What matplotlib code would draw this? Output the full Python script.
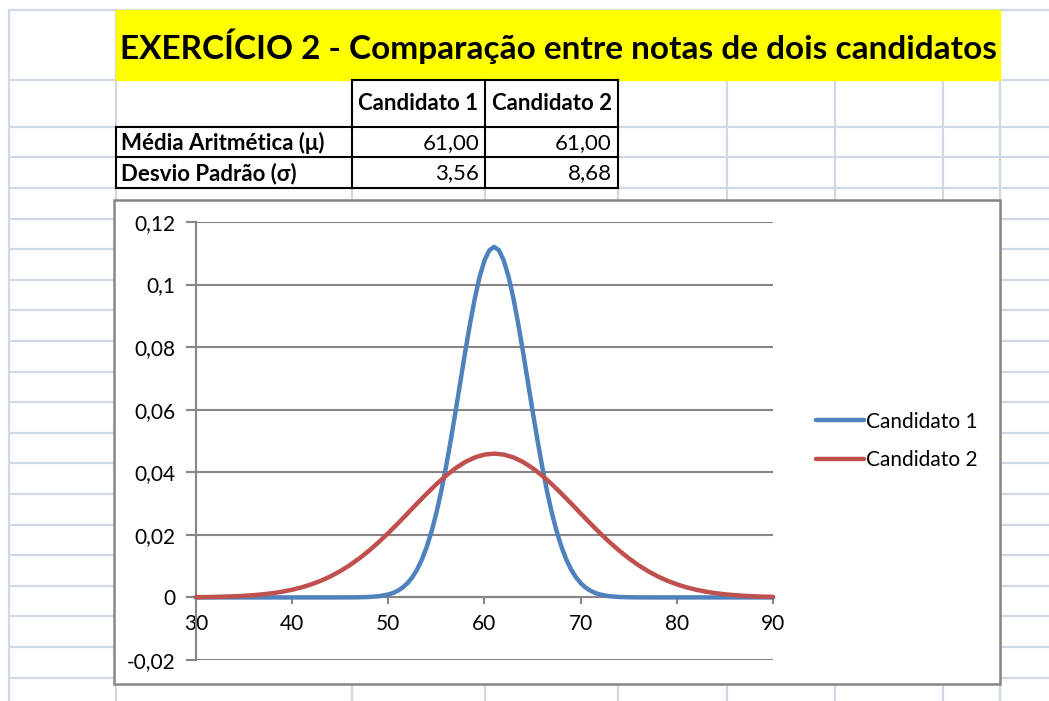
import matplotlib
matplotlib.use('Agg')
from matplotlib import pyplot as plt
from matplotlib.patches import Rectangle

plt.rcParams['font.family'] = ['Lato', 'DejaVu Sans']

# --- data -------------------------------------------------------------
title = 'EXERCÍCIO 2 - Comparação entre notas de dois candidatos'
col_labels = ['Candidato 1', 'Candidato 2']
row_labels = ['Média Aritmética (μ)', 'Desvio Padrão (σ)']
means = [61.00, 61.00]
std_devs = [3.56, 8.68]

# candidato 1 is read more densely around the narrow peak
notas1 = ([30, 31, 32, 33, 34, 35, 36, 37, 38, 39, 40, 41, 42, 43, 44, 45,
           46, 47, 48, 49, 50]
          + [50.5, 51, 51.5, 52, 52.5, 53, 53.5, 54, 54.5, 55, 55.5, 56, 56.5,
             57, 57.5, 58, 58.5, 59, 59.5, 60, 60.5, 61, 61.5, 62, 62.5, 63,
             63.5, 64, 64.5, 65, 65.5, 66, 66.5, 67, 67.5, 68, 68.5, 69, 69.5,
             70, 70.5, 71, 71.5]
          + [72, 73, 74, 75, 76, 77, 78, 79, 80, 81, 82, 83, 84, 85, 86, 87,
             88, 89, 90])
cand1 = ([0.0] * 15 + [0.000005, 0.0000156, 0.0000491, 0.000143, 0.000382,
                       0.000946]
         + [0.001447, 0.00217, 0.00318, 0.00459, 0.00648, 0.00897, 0.01218,
            0.01621, 0.02116, 0.02708, 0.03397, 0.04179, 0.05041, 0.05961,
            0.06911, 0.07857, 0.08757, 0.09570, 0.10254, 0.10773, 0.11096,
            0.11206,
            0.11096, 0.10773, 0.10254, 0.09570, 0.08757, 0.07857, 0.06911,
            0.05961, 0.05041, 0.04179, 0.03397, 0.02708, 0.02116, 0.01621,
            0.01218, 0.00897, 0.00648, 0.00459, 0.00318, 0.00217, 0.001447]
         + [0.000946, 0.000382, 0.000143, 0.0000491, 0.0000156, 0.000005]
         + [0.0] * 13)

notas2 = list(range(30, 91))
cand2 = [0.0000782, 0.000117, 0.000173, 0.000253, 0.000364, 0.000518, 0.000726,
         0.00101, 0.00137, 0.00185, 0.00246, 0.00323, 0.00419, 0.00535, 0.00675,
         0.00841, 0.01032, 0.01252, 0.01497, 0.01767, 0.02059, 0.02367, 0.02685,
         0.03006, 0.03320, 0.03619, 0.03893, 0.04133, 0.04330, 0.04476, 0.04566,
         0.04596,
         0.04566, 0.04476, 0.04330, 0.04133, 0.03893, 0.03619, 0.03320, 0.03006,
         0.02685, 0.02367, 0.02059, 0.01767, 0.01497, 0.01252, 0.01032, 0.00841,
         0.00675, 0.00535, 0.00419, 0.00323, 0.00246, 0.00185, 0.00137, 0.00101,
         0.000726, 0.000518, 0.000364, 0.000253, 0.000173]
series_names = ['Candidato 1', 'Candidato 2']
series_colors = ['#4F81BD', '#C0504D']

# --- sheet layout (pixels) --------------------------------------------
W, H = 1049, 701
col_x = [9, 116, 352, 485, 618, 727, 835, 943, 1000]
row_y = [10, 80, 127, 157, 188] + [188 + 30.6 * k for k in range(1, 17)]
GRID = '#D0D7E5'
AXIS = '#868686'


def fmt(v):
    return f'{v:.2f}'.replace('.', ',')


fig = plt.figure(figsize=(W / 100, H / 100), dpi=100)
sheet = fig.add_axes([0, 0, 1, 1])
sheet.set_xlim(0, W)
sheet.set_ylim(H, 0)
sheet.axis('off')

# spreadsheet gridlines
for y in row_y:
    sheet.plot([col_x[0], W], [y, y], color=GRID, lw=1.6, zorder=1)
for x in col_x:
    sheet.plot([x, x], [row_y[0], H], color=GRID, lw=1.6, zorder=1)

# title banner
sheet.add_patch(Rectangle((116, 10), 1000 - 116, 70, color='#FFFF00', zorder=2))
sheet.text(558, 46, title, ha='center', va='center', fontsize=24,
           fontweight='bold', zorder=3)

# table
tkw = dict(fontsize=16, va='center', zorder=4)
sheet.add_patch(Rectangle((352, 80), 266, 47, facecolor='white', edgecolor='none', zorder=2))
sheet.add_patch(Rectangle((116, 127), 502, 61, facecolor='white', edgecolor='none', zorder=2))
bk = dict(color='black', lw=1.5, zorder=3)
sheet.plot([352, 618], [80, 80], **bk)
sheet.plot([116, 618], [127, 127], **bk)
sheet.plot([116, 618], [157, 157], **bk)
sheet.plot([116, 618], [188, 188], **bk)
sheet.plot([116, 116], [127, 188], **bk)
for x in (352, 485, 618):
    sheet.plot([x, x], [80, 188], **bk)
for i, lab in enumerate(col_labels):
    sheet.text((col_x[2 + i] + col_x[3 + i]) / 2, 104, lab, ha='center',
               fontweight='bold', **tkw)
for j, (lab, vals) in enumerate(zip(row_labels, [means, std_devs])):
    yc = (row_y[2 + j] + row_y[3 + j]) / 2 + 1
    sheet.text(121, yc, lab, ha='left', fontweight='bold', **tkw)
    for i, v in enumerate(vals):
        sheet.text(col_x[3 + i] - 6, yc, fmt(v), ha='right', **tkw)

# chart frame
sheet.add_patch(Rectangle((114, 200), 1000 - 114, 684 - 200, facecolor='white',
                          edgecolor=AXIS, lw=1.8, zorder=5))

# --- chart ------------------------------------------------------------
left, right, top, bottom = 196, 773, 222, 660
ax = fig.add_axes([left / W, 1 - bottom / H, (right - left) / W, (bottom - top) / H],
                  zorder=6)
ax.patch.set_alpha(0)
for name, xs, ys, c in zip(series_names, [notas1, notas2], [cand1, cand2],
                           series_colors):
    ax.plot(xs, ys, color=c, lw=3.2, label=name, solid_capstyle='round',
            solid_joinstyle='round', zorder=4, clip_on=False)

ax.set_xlim(30, 90)
ax.set_ylim(-0.02, 0.12)
ax.set_xticks(range(30, 91, 10))
ax.set_yticks([-0.02, 0, 0.02, 0.04, 0.06, 0.08, 0.1, 0.12])
ax.set_yticklabels(['-0,02', '0', '0,02', '0,04', '0,06', '0,08', '0,1', '0,12'])
ax.grid(axis='y', color=AXIS, lw=1.5, zorder=1)
ax.grid(axis='x', visible=False)
for s in ('top', 'right'):
    ax.spines[s].set_visible(False)
ax.spines['bottom'].set_position(('data', 0))
for s in ('bottom', 'left'):
    ax.spines[s].set_color(AXIS)
    ax.spines[s].set_linewidth(1.5)
ax.tick_params(axis='x', direction='out', length=5, width=1.5, color=AXIS,
               labelsize=15, pad=7)
ax.tick_params(axis='y', direction='out', length=7, width=1.5, color=AXIS,
               labelsize=15, pad=8)

ax.legend(loc='center left', bbox_to_anchor=(816 / W, 1 - 441 / H),
          bbox_transform=fig.transFigure, frameon=False, fontsize=15,
          handlelength=2.3, handletextpad=0.1, labelspacing=0.9, borderpad=0,
          borderaxespad=0)

fig.savefig('out.png', dpi=100)
